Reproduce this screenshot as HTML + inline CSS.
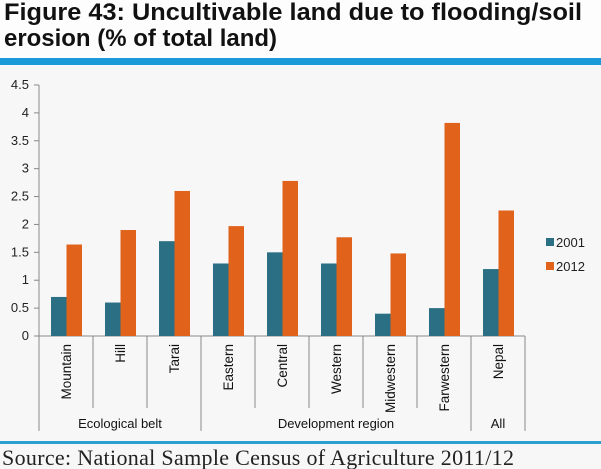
<!DOCTYPE html>
<html><head><meta charset="utf-8"><style>
body{margin:0;width:601px;height:469px;background:#f7f7f7;overflow:hidden}
svg{display:block}
</style></head><body>
<svg width="601" height="469" xmlns="http://www.w3.org/2000/svg">
<rect x="0" y="0" width="601" height="469" fill="#f7f7f7"/>
<rect x="0" y="0" width="601" height="58" fill="#fdfdfd"/>
<text x="4" y="20" font-family="Liberation Sans, sans-serif" font-weight="bold" font-size="24" fill="#111" textLength="578" lengthAdjust="spacingAndGlyphs">Figure 43: Uncultivable land due to flooding/soil</text>
<text x="4" y="46" font-family="Liberation Sans, sans-serif" font-weight="bold" font-size="24" fill="#111" textLength="273" lengthAdjust="spacingAndGlyphs">erosion (% of total land)</text>
<rect x="0" y="58" width="601" height="7" fill="#1a9ad8"/>
<rect x="0" y="441" width="601" height="3" fill="#2a9fd0"/>
<text x="2" y="465" font-family="Liberation Serif, serif" font-size="22" fill="#222" textLength="512">Source: National Sample Census of Agriculture 2011/12</text>
<g id="plot"></g>
<g>
<rect x="546" y="238" width="8" height="8" fill="#2a6f84"/>
<text x="556" y="247" font-family="Liberation Sans, sans-serif" font-size="13" fill="#222">2001</text>
<rect x="546" y="262" width="8" height="8" fill="#e0621b"/>
<text x="556" y="271" font-family="Liberation Sans, sans-serif" font-size="13" fill="#222">2012</text>
</g>
</svg>
<script>
const categories=["Mountain","Hill","Tarai","Eastern","Central","Western","Midwestern","Farwestern","Nepal"];
const values2001=[0.7,0.6,1.7,1.3,1.5,1.3,0.4,0.5,1.2];
const values2012=[1.64,1.9,2.6,1.97,2.78,1.77,1.48,3.82,2.25];
const yTicks=[0,0.5,1,1.5,2,2.5,3,3.5,4,4.5];
const yTickLabels=["0","0.5","1","1.5","2","2.5","3","3.5","4","4.5"];
const groups=["Ecological belt","Development region","All"];
const groupSizes=[3,5,1];
const NS="http://www.w3.org/2000/svg";
const g=document.getElementById('plot');
const x0=39,bandW=54,y0=336,yTop=85,yMax=4.5;
const y=v=>y0-(v/yMax)*(y0-yTop);
const xb=i=>x0+i*bandW;
function mk(t,a){const e=document.createElementNS(NS,t);for(const k in a)e.setAttribute(k,a[k]);g.appendChild(e);return e;}
const yAxis=mk('line',{x1:x0,y1:yTop,x2:x0,y2:y0,stroke:'#888'});


yTicks.forEach((v,i)=>{
 const tk=mk('line',{x1:x0-5,y1:y(v),x2:x0,y2:y(v),stroke:'#888'});
 
 
 const t=mk('text',{x:x0-10,y:y(v)+4,'text-anchor':'end','font-family':'Liberation Sans, sans-serif','font-size':'13',fill:'#222'});
 t.textContent=yTickLabels[i];
 
 
});
const xAxis=mk('line',{x1:x0,y1:y0,x2:xb(categories.length),y2:y0,stroke:'#888'});


categories.forEach((c,i)=>{
 const b1=mk('rect',{x:xb(i)+12,y:y(values2001[i]),width:15.5,height:y0-y(values2001[i]),fill:'#2a6f84'});
 
 
 const b2=mk('rect',{x:xb(i)+27.5,y:y(values2012[i]),width:15.5,height:y0-y(values2012[i]),fill:'#e0621b'});
 
 
 const cx=xb(i)+bandW/2+5;
 const t=mk('text',{x:0,y:0,transform:`translate(${cx},${y0+8}) rotate(-90)`,'text-anchor':'end','font-family':'Liberation Sans, sans-serif','font-size':'13.5',fill:'#111'});
 t.textContent=c;
 
 
});
let start=0;const bounds=[0];
groupSizes.forEach(s=>{start+=s;bounds.push(start);});
for(let i=0;i<=categories.length;i++){
 const isG=bounds.includes(i);
 const l=mk('line',{x1:xb(i),y1:y0,x2:xb(i),y2:isG?431:408,stroke:'#888'});
 
 
}
groups.forEach((gr,i)=>{
 const cx=(xb(bounds[i])+xb(bounds[i+1]))/2;
 const t=mk('text',{x:cx,y:428,'text-anchor':'middle','font-family':'Liberation Sans, sans-serif','font-size':'13',fill:'#111'});
 t.textContent=gr;
 
 
});
</script>
</body></html>
